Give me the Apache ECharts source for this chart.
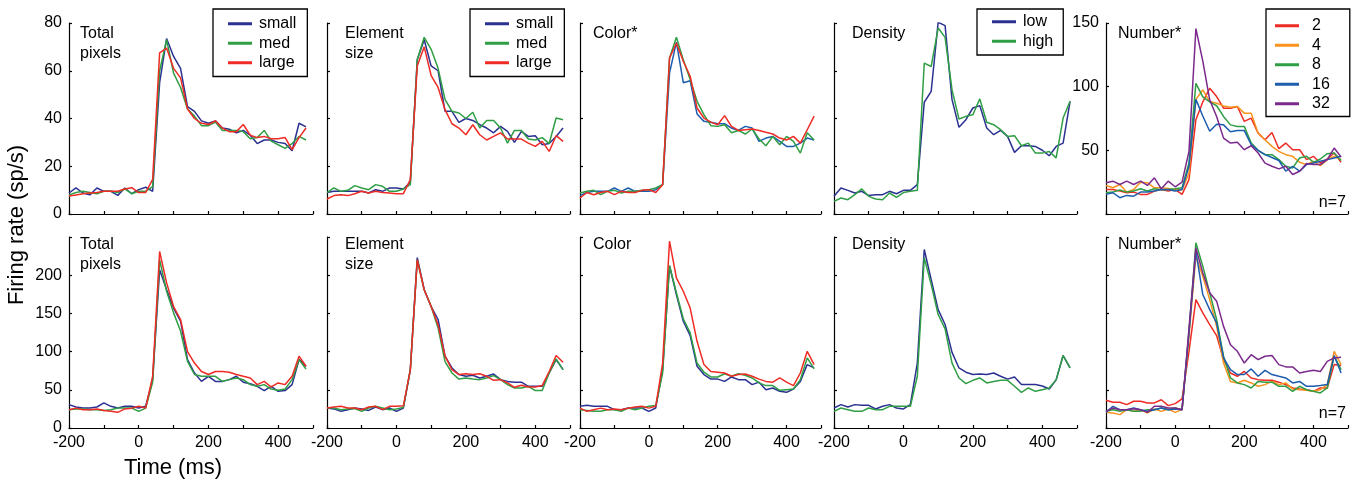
<!DOCTYPE html>
<html>
<head>
<meta charset="utf-8">
<script src="https://cdn.jsdelivr.net/npm/echarts@6/dist/echarts.min.js"></script>
<style>
html,body{margin:0;padding:0;background:#fff;}
#c{width:1356px;height:483px;}
</style>
</head>
<body>
<div id="c"></div>
<script>
// ---------- data ----------
const T = [-200,-180,-160,-140,-120,-100,-80,-60,-40,-20,0,20,40,60,80,100,120,140,160,180,200,220,240,260,280,300,320,340,360,380,400,420,440,460,480];
const X_TICKS = [-200, 0, 200, 400];

// top row (0-80 / 0-150)
const tpSmall = [8.8,10.9,8.8,8,10.9,9.5,9.5,7.8,10.9,8.5,10.2,11.2,9.5,55,73.5,66,61,45,43,39,38,39,36,35.5,34,35,33,29.5,31,31,30,29.5,26.5,38,36.5];
const tpMed   = [8,9,9.5,9,8.5,9.5,9.5,9,10.5,8.5,9.5,9.5,11.5,60,73,59,53,44,41,37,37,38.5,35,35,35,34.5,31.5,32,35,30.5,29,27.5,29.5,32.5,31];
const tpLarge = [7.5,8,8.5,8.8,9,9.5,9.5,9.5,10.5,11,9,9,14.5,67.5,69.5,61,57,44,40,38,37.5,39,36,34.5,34.5,37.5,33,32,32.5,31.5,31.5,32,27,32,36];

const esSmall = [9,9.5,9.5,9.5,9.5,9.5,8.8,10.2,9.5,10.9,10.9,10.5,13.3,64.6,73,62,60,43,43,38.4,40,39.2,37.4,36,34,36.7,34.6,30,34.6,32.5,32.8,29,29.5,32.5,36];
const esMed   = [9,10.9,9.5,9.9,11.9,10.9,10.2,12.3,11.6,9.5,9.5,10.5,12.3,64.6,74,69,61,48,43,42.3,40,42.6,36,39.2,39.2,36,29.7,35,35,31.4,31,32,29.5,40.2,39.5];
const esLarge = [6.3,7.7,8.1,7.7,8.5,9.5,8.8,9.5,9,8.8,8.5,8.5,14.4,62,70,58,53,43.7,37.8,36,33.2,37.4,33.2,31,32.5,34,31.4,31.4,31.4,29.7,28.3,30.4,26.2,32.8,30.4];

const coRed   = [6.7,9,8.1,9,9.5,8.1,9.5,9,9,9.9,10.2,9,12.3,65.3,71.6,64,57.7,44.4,40.2,38.5,37.4,41.2,36.7,35,35.3,35.6,35,34.2,33.5,31.8,31,32.5,29.7,35.3,41];
const coGreen = [8.8,9.5,9.9,8.1,9.5,9.9,8.8,9.5,9.5,9.9,10.2,10.9,12.3,65.3,74,64.6,56.3,47.2,41.6,37,36.7,37.4,34,35,33.5,35.6,31.4,28.6,32.5,29,32.5,30.4,25.5,34,31];
const coBlue  = [7.7,9,9.5,9.5,9.5,10.9,9.5,10.9,9.5,9.5,9.5,10.2,12.3,59,72,55,55.8,41.9,38.8,38.4,37.8,37.8,36,35,36.7,36,30.4,31.8,32.5,30.4,28.3,28.3,29.7,31.8,31];

const deLow  = [7.4,10.9,9.9,8.8,9.5,7.7,8.1,8.1,9.5,8.5,9.9,9.9,12.3,46.8,51.4,80.3,78.9,47.9,36.3,39.5,44.4,45.4,36,33.2,35,32.5,25.8,28.6,28.6,28.3,26.7,24.4,28.3,29.7,47.2];
const deHigh = [5.3,6.7,6,8.1,10.5,7.4,6.3,6,8.8,7,9,9.5,9.9,63.2,61.8,77.9,74,52,39.8,40.9,41.6,48.2,38.4,37.4,35.3,32.5,32.8,28.6,29.7,25.5,25.5,26.2,23.5,40.2,47.2];

const nu2  = [19.3,19.3,18,16.7,17.2,15.4,15.4,18,19.3,18,19.3,15.4,27,74,88,98.7,92.2,83.1,83.1,84.4,72.7,75.3,63.5,58.3,64,51.3,55.7,50.5,50.5,42.7,45.3,40,43.2,47.9,40.6];
const nu4  = [22.4,20.6,23.2,17.2,19.3,25,24.5,20.6,20.6,20,19,19,32,90,97.4,88.3,87,84.9,83.9,84.4,79.2,79.2,63.5,58.3,53.1,49.2,46.6,45.3,40.6,38.8,41.4,38,42.7,45.3,42.7];
const nu8  = [16.7,17.2,18.8,17.2,18,19.8,18,19.8,19,19.3,19.8,20.6,40,102.6,92,88,85,76.6,70,68.8,68.8,55.7,50,46.6,46.6,42.7,37.5,36.2,44,45.3,40.6,43.2,47.4,47.9,42];
const nu16 = [15.4,16.7,12.8,14.6,14,17.2,17.2,18,19.3,19.3,18,19.3,37.5,90,77,65,70.5,70,64.6,65.5,65.5,54.5,50,46.6,44.4,42,33.6,37.5,33.6,38.8,40,41.4,42.7,44,45.3];
const nu32 = [24.5,25.8,23.2,25.8,23.2,25.8,22.4,28.4,19.8,25.8,21.4,25,49.2,145.6,120,89.6,76.6,59.6,55.7,56.3,50.5,53.6,47.9,40,37.5,35.4,37.5,31,33.6,39.6,38.8,38.8,42.7,51.8,44.8];

// bottom row (0-250)
const bpSmall = [30.6,27.5,26.2,26.2,27.5,32.8,28.4,26.2,28.4,28.4,26.2,28.4,63.3,207,181,157,140,89.5,72,61,67.7,61,61,63.3,67.7,60,58,54.6,49,54.6,48,49,56.8,89.5,80.8];
const bpMed   = [24,25,25,24,24,23,24,26.2,26.2,26.2,21.8,26,60,220,179,150.7,127,87.3,70,67.7,67.7,67.7,61,63.3,65.5,63.3,56.8,54.6,56.8,51,49.3,51,63.3,89.5,77.3];
const bpLarge = [24,26,24,24,25,23,21.8,20.5,25,26,28.4,26.2,67.7,231,190,159,142,100,85,74,70,74,74,73,70,67.7,65.5,56.8,61,53.7,59,56.8,67.7,93.9,80.8];

const bsSmall = [26.2,25,21.8,24,26.2,25,23,27.5,24,26.2,21.8,26.2,76,223,181,159,142,94,78.6,70,67.7,69,65.5,67.7,70.7,63.3,61,60,60,54.6,54.6,54.6,72,89.5,76.4];
const bsMed   = [26.2,26.2,24,25,25.5,21.8,26.2,28.4,26.2,24,25,27,76,220,181,159,131,87,72,64,65.5,64,63.3,65.5,68.6,63.3,56.8,52.4,52.4,54.6,49,49,72,90.4,76.4];
const bsLarge = [26.2,27.5,28.4,26.2,26.2,24,27.5,28.4,24,28.4,28.4,29,76,220,181,159,135,94,76.4,70,71,70,71,67.7,62.4,63.3,59,53.3,56,53.7,53.7,55.5,74,94.8,86];

const bcRed   = [26,21.8,24,26,24,25,24,26,27.5,28.4,26,28.4,85,244.5,196.5,179,157,113.5,83,74,73,72,67.7,70,70.7,67.7,64,61,60,65.5,60,55.5,72,100.4,83];
const bcGreen = [24,23,21.8,21.8,24,24,21.8,26,24,26,28.4,29.3,72,212.7,177,143,124.5,85,73,66.8,66.8,71,67.7,71,69,65.5,59,55.5,55.5,49.3,50.2,51,63.3,91.7,77.3];
const bcBlue  = [28.4,29.7,28.4,28.4,28.4,24,24,26.2,26.2,26.2,21.8,26.2,76.4,212,174.7,139.7,121,80.8,70,64,64,61,66.8,63.3,63.3,56.8,60,50.2,52.4,48,46.7,51,61,83,78.6];

const bdLow  = [26.2,30.6,27.5,30.6,29.7,29.7,24.9,28.4,30.6,26.2,24.9,30.6,85,233.6,194.3,155,135.4,99,78.6,73,70,70.7,70,72,67.7,64,66.8,56.8,56.8,57,55,51,63,94.8,78.6];
const bdHigh = [21.8,26.2,24,21.8,21.8,26.2,24,24,28.4,28.4,28.4,28.4,67.7,222.7,187.8,148.5,129.7,85,65.5,58,62.4,65.5,59,61,62.4,62.4,54.6,46.7,52.4,48,50.2,52.4,63.3,94.8,78.6];

const bn2  = [36.2,33.6,33.6,30.6,35,35,32.8,32.8,37,29.3,31.9,38,100,168,150.6,135.4,121,89.5,72,67.7,74,65.5,63.3,62.4,62.4,60,56.8,52.4,51,50.2,48,52.4,52.4,83,81.7];
const bn4  = [20.5,19.7,17.5,24,21.8,24,19.7,24.9,21.8,24.9,20.5,24,120,225,198.7,168,133,85,61,59,62.4,59,54.6,56.8,61,56.8,59,51,50.2,49.3,48,50.2,56.8,100.4,83];
const bn8  = [21.8,24,21.8,24,21.8,21.8,24,24,26.2,24,26.2,24,125,242.4,211.8,177,142,94,65.5,59,56.8,52.4,61,60,60,54.6,54.6,48,54.6,50.2,48,45.9,52.4,94,76.4];
const bn16 = [20.5,28.4,24,24,26.2,24,21.8,24,26.2,24,24.9,24,125,231.4,174.7,155,137.6,91.7,76.4,70,70,77.3,67.7,75.5,70,67.7,65.5,59,61,54.6,54.6,55.5,56.8,94.8,72];
const bn32 = [21.8,26.2,24,24,25.3,24,20.5,28.4,28.4,26.2,26.2,24,130,235.8,203,177,166,133,109,100.4,85,96,89.5,93.9,94.8,83,80,80,72,74,75.5,74,87.3,91.7,92.6];

const TITLES_TOP = ['Total\npixels', 'Element\nsize', 'Color*', 'Density', 'Number*'];
const TITLES_BOT = ['Total\npixels', 'Element\nsize', 'Color', 'Density', 'Number*'];
const SIZE_NAMES = ['small', 'med', 'large'];
const DENS_NAMES = ['low', 'high'];
const NUM_NAMES = ['2', '4', '8', '16', '32'];
const Y_TITLE = 'Firing rate (sp/s)';
const X_TITLE = 'Time (ms)';
const N_LABEL = 'n=7';

// ---------- styling ----------
const FONT = '"Liberation Sans", Arial, Helvetica, sans-serif';
const NAVY = '#2b3191';
const BLUE = '#1d5dae';
const GREEN = '#2f9e44';
const RED = '#ee2b24';
const ORANGE = '#f7931e';
const PURPLE = '#7b2a8c';

const LEFTS = [69, 327, 580, 834, 1106];
const WIDTHS = [244, 243, 241, 243, 242];
const TOPS = [23, 237];
const H = 191;

const panels = [
  {row:0,col:0,ymax:80,yint:20,ylab:v=>String(v),series:[['small',NAVY,tpSmall],['med',GREEN,tpMed],['large',RED,tpLarge]]},
  {row:0,col:1,ymax:80,yint:20,ylab:null,series:[['small',NAVY,esSmall],['med',GREEN,esMed],['large',RED,esLarge]]},
  {row:0,col:2,ymax:80,yint:20,ylab:null,series:[['c-small',BLUE,coBlue],['c-med',GREEN,coGreen],['c-large',RED,coRed]]},
  {row:0,col:3,ymax:80,yint:20,ylab:null,series:[['low',NAVY,deLow],['high',GREEN,deHigh]]},
  {row:0,col:4,ymax:150,yint:50,ylab:v=>(v===0?'':String(v)),series:[['2',RED,nu2],['4',ORANGE,nu4],['8',GREEN,nu8],['16',BLUE,nu16],['32',PURPLE,nu32]]},
  {row:1,col:0,ymax:250,yint:50,ylab:v=>(v>200?'':String(v)),series:[['small',NAVY,bpSmall],['med',GREEN,bpMed],['large',RED,bpLarge]]},
  {row:1,col:1,ymax:250,yint:50,ylab:null,series:[['small',NAVY,bsSmall],['med',GREEN,bsMed],['large',RED,bsLarge]]},
  {row:1,col:2,ymax:250,yint:50,ylab:null,series:[['c-small',NAVY,bcBlue],['c-med',GREEN,bcGreen],['c-large',RED,bcRed]]},
  {row:1,col:3,ymax:250,yint:50,ylab:null,series:[['low',NAVY,bdLow],['high',GREEN,bdHigh]]},
  {row:1,col:4,ymax:250,yint:50,ylab:null,series:[['2',RED,bn2],['4',ORANGE,bn4],['8',GREEN,bn8],['16',BLUE,bn16],['32',PURPLE,bn32]]}
];

const grid = [], xAxis = [], yAxis = [], series = [], graphic = [];
const axisLine = {show:true, onZero:false, lineStyle:{color:'#000', width:1.2}};
const axisTick = {show:true, inside:true, length:3, lineStyle:{color:'#000', width:1.2}};

panels.forEach((p, k) => {
  grid.push({left: LEFTS[p.col], top: TOPS[p.row], width: WIDTHS[p.col], height: H, containLabel:false});
  xAxis.push({
    type:'value', gridIndex:k, min:-200, max:500, interval:100,
    axisLine, axisTick, splitLine:{show:false},
    axisLabel:{show: p.row===1, margin:7, color:'#000', fontSize:16, fontFamily:FONT,
      formatter: v => (X_TICKS.indexOf(v) >= 0 ? String(v) : '')}
  });
  yAxis.push({
    type:'value', gridIndex:k, min:0, max:p.ymax, interval:p.yint,
    axisLine, axisTick, splitLine:{show:false},
    axisLabel:{show: !!p.ylab, margin:7, color:'#000', fontSize:16, fontFamily:FONT,
      formatter: p.ylab || (()=>'')}
  });
  p.series.forEach(([name, color, vals]) => {
    series.push({
      type:'line', name, xAxisIndex:k, yAxisIndex:k,
      data: T.map((t, i) => [t, vals[i]]),
      showSymbol:false, symbol:'none', silent:true,
      lineStyle:{color, width:1.5}, itemStyle:{color},
      z: 2
    });
  });
});

function addTitle(text, x, y) {
  graphic.push({type:'text', left:x, top:y, silent:true,
    style:{text, fill:'#000', font:'16px ' + FONT, lineHeight:20}});
}
const TITLE_X = [80, 345, 593, 852, 1118];
TITLES_TOP.forEach((t, i) => addTitle(t, TITLE_X[i], 24));
TITLES_BOT.forEach((t, i) => addTitle(t, TITLE_X[i], 235));

graphic.push({type:'text', right: 10, top: 195, silent:true, style:{text:N_LABEL, fill:'#000', font:'16px ' + FONT}});
graphic.push({type:'text', right: 10, top: 406, silent:true, style:{text:N_LABEL, fill:'#000', font:'16px ' + FONT}});

graphic.push({type:'text', x: 6, y: 225, rotation: Math.PI/2, silent:true,
  style:{text:Y_TITLE, fill:'#000', font:'22px ' + FONT, align:'center', verticalAlign:'top'}});
graphic.push({type:'text', x: 173, y: 457, silent:true,
  style:{text:X_TITLE, fill:'#000', font:'22px ' + FONT, align:'center', verticalAlign:'top'}});

function mkLegend(names, left, top, padding, textPad) {
  return {
    data: names, orient:'vertical', left, top,
    icon:'rect', itemWidth:24, itemHeight:3, itemGap:0,
    padding, borderColor:'#000', borderWidth:1.3, backgroundColor:'#fff',
    selectedMode:false,
    textStyle:{color:'#000', fontSize:16, fontFamily:FONT, lineHeight:19.5, padding:[0,0,0,textPad]}
  };
}
const legend = [
  mkLegend(SIZE_NAMES, 213, 9, [5, 11, 4, 15], 2),
  mkLegend(SIZE_NAMES, 470, 9, [5, 11, 4, 15], 2),
  mkLegend(DENS_NAMES, 977, 9, [3, 10, 4, 15], 2),
  mkLegend(NUM_NAMES, 1266, 9, [7, 20, 3, 9], 8)
];

const chart = echarts.init(document.getElementById('c'), null, {renderer:'canvas', width:1356, height:483});
chart.setOption({
  animation:false,
  backgroundColor:'#fff',
  grid, xAxis, yAxis, series, legend, graphic
});
</script>
</body>
</html>
